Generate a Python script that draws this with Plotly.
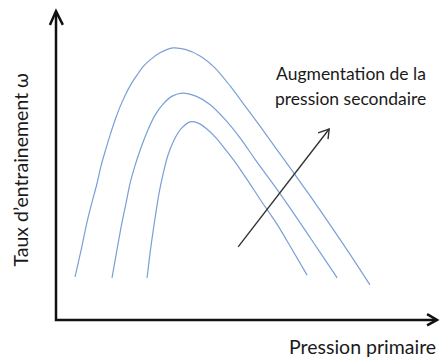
import plotly.graph_objects as go

# Curves: primary pressure (arbitrary units, 0-10) vs entrainment ratio (arbitrary units, 0-10)
x_curve1 = [0.50, 0.66, 0.81, 0.94, 1.08, 1.18, 1.30, 1.42, 1.55, 1.68, 1.82, 1.97, 2.13, 2.28, 2.47, 2.73, 3.07,
            3.39, 3.78, 4.17, 4.57, 4.96, 5.35, 5.75, 6.22, 6.67, 7.11, 7.71, 8.24]
y_curve1 = [1.37, 2.25, 3.13, 3.78, 4.43, 4.98, 5.50, 5.99, 6.48, 6.91, 7.30, 7.65, 7.95, 8.21, 8.44, 8.67, 8.83,
            8.78, 8.57, 8.18, 7.59, 6.94, 6.29, 5.60, 4.79, 4.01, 3.22, 2.12, 1.11]

x_curve2 = [1.47, 1.60, 1.73, 1.84, 1.94, 2.07, 2.20, 2.39, 2.60, 2.81, 3.05, 3.31, 3.67, 4.04, 4.43,
            4.83, 5.22, 5.62, 6.09, 6.59, 6.98, 7.38]
y_curve2 = [1.34, 2.25, 3.13, 3.78, 4.40, 4.98, 5.47, 6.09, 6.64, 7.00, 7.26, 7.36, 7.26, 6.99, 6.51,
            5.90, 5.21, 4.53, 3.71, 2.80, 2.08, 1.34]

x_curve3 = [2.39, 2.49, 2.60, 2.70, 2.81, 2.94, 3.10, 3.28, 3.52, 3.73, 3.96, 4.20, 4.46, 4.72, 5.04,
            5.35, 5.80, 6.19, 6.59]
y_curve3 = [1.34, 2.35, 3.29, 4.07, 4.72, 5.34, 5.83, 6.19, 6.42, 6.38, 6.19, 5.90, 5.50, 5.08, 4.50,
            3.91, 3.09, 2.28, 1.43]

# Arrow showing increase of secondary pressure (start, end)
arrow_x = [4.78, 7.17]
arrow_y = [2.35, 6.19]

x_title = "Pression primaire"
y_title = "Taux d\u2019entrainement \u03c9"
note_lines = ["Augmentation de la", "pression secondaire"]

LINE = "#78A0D7"
FONT = "Lato, 'Open Sans', sans-serif"

fig = go.Figure()
for xs, ys in [(x_curve1, y_curve1), (x_curve2, y_curve2), (x_curve3, y_curve3)]:
    fig.add_trace(go.Scatter(x=xs, y=ys, mode="lines",
                             line=dict(color=LINE, width=1.2, shape="spline", smoothing=0.8),
                             hoverinfo="skip", showlegend=False))

fig.add_trace(go.Scatter(x=arrow_x, y=arrow_y, mode="lines",
                         line=dict(color="#333333", width=1.4),
                         hoverinfo="skip", showlegend=False))

# open arrow head for the diagonal arrow (in data coords, relative to tip)
tx, ty = arrow_x[1], arrow_y[1]
fig.add_shape(type="path", xref="x", yref="y",
              path=f"M {tx-0.29},{ty-0.13} L {tx},{ty} L {tx-0.03},{ty-0.33}",
              line=dict(color="#333333", width=1.4))

# axes with open arrow heads (paper coords)
ax = dict(color="#111111", width=2.5)
fig.add_shape(type="path", xref="paper", yref="paper",
              path="M 0,1 L 0,-0.003 L 1,-0.003", line=ax)
fig.add_shape(type="path", xref="paper", yref="paper",
              path="M -0.016,0.958 L 0,1.003 L 0.018,0.958", line=ax)
fig.add_shape(type="path", xref="paper", yref="paper",
              path="M 0.974,0.016 L 1.0,-0.003 L 0.974,-0.021", line=ax)

fig.add_annotation(text=note_lines[0], xref="paper", yref="paper", x=0.774, y=(319 - 73) / 307,
                   showarrow=False, xanchor="center", yanchor="middle",
                   font=dict(family=FONT, size=17.5, color="#1a1a1a"))
fig.add_annotation(text=note_lines[1], xref="paper", yref="paper", x=0.774, y=(319 - 98) / 307,
                   showarrow=False, xanchor="center", yanchor="middle",
                   font=dict(family=FONT, size=17.5, color="#1a1a1a"))
fig.add_annotation(text=x_title, xref="paper", yref="paper", x=1.003, y=-0.091,
                   showarrow=False, xanchor="right", yanchor="middle",
                   font=dict(family=FONT, size=19.5, color="#1a1a1a"))
fig.add_annotation(text=y_title, xref="paper", yref="paper", x=-0.0945, y=0.487,
                   showarrow=False, xanchor="center", yanchor="middle", textangle=-90,
                   font=dict(family=FONT, size=19.5, color="#1a1a1a"))

axis_common = dict(showgrid=False, zeroline=False, showticklabels=False, showline=False, ticks="")
fig.update_xaxes(range=[0, 10], **axis_common)
fig.update_yaxes(range=[0, 10], **axis_common)
fig.update_layout(width=445, height=358, margin=dict(l=56, r=8, t=12, b=39),
                  plot_bgcolor="white", paper_bgcolor="white", hovermode=False)

fig.write_html("out.html", config={"displayModeBar": False, "staticPlot": True},
               post_script="document.body.style.margin='0';document.body.style.padding='0';")
